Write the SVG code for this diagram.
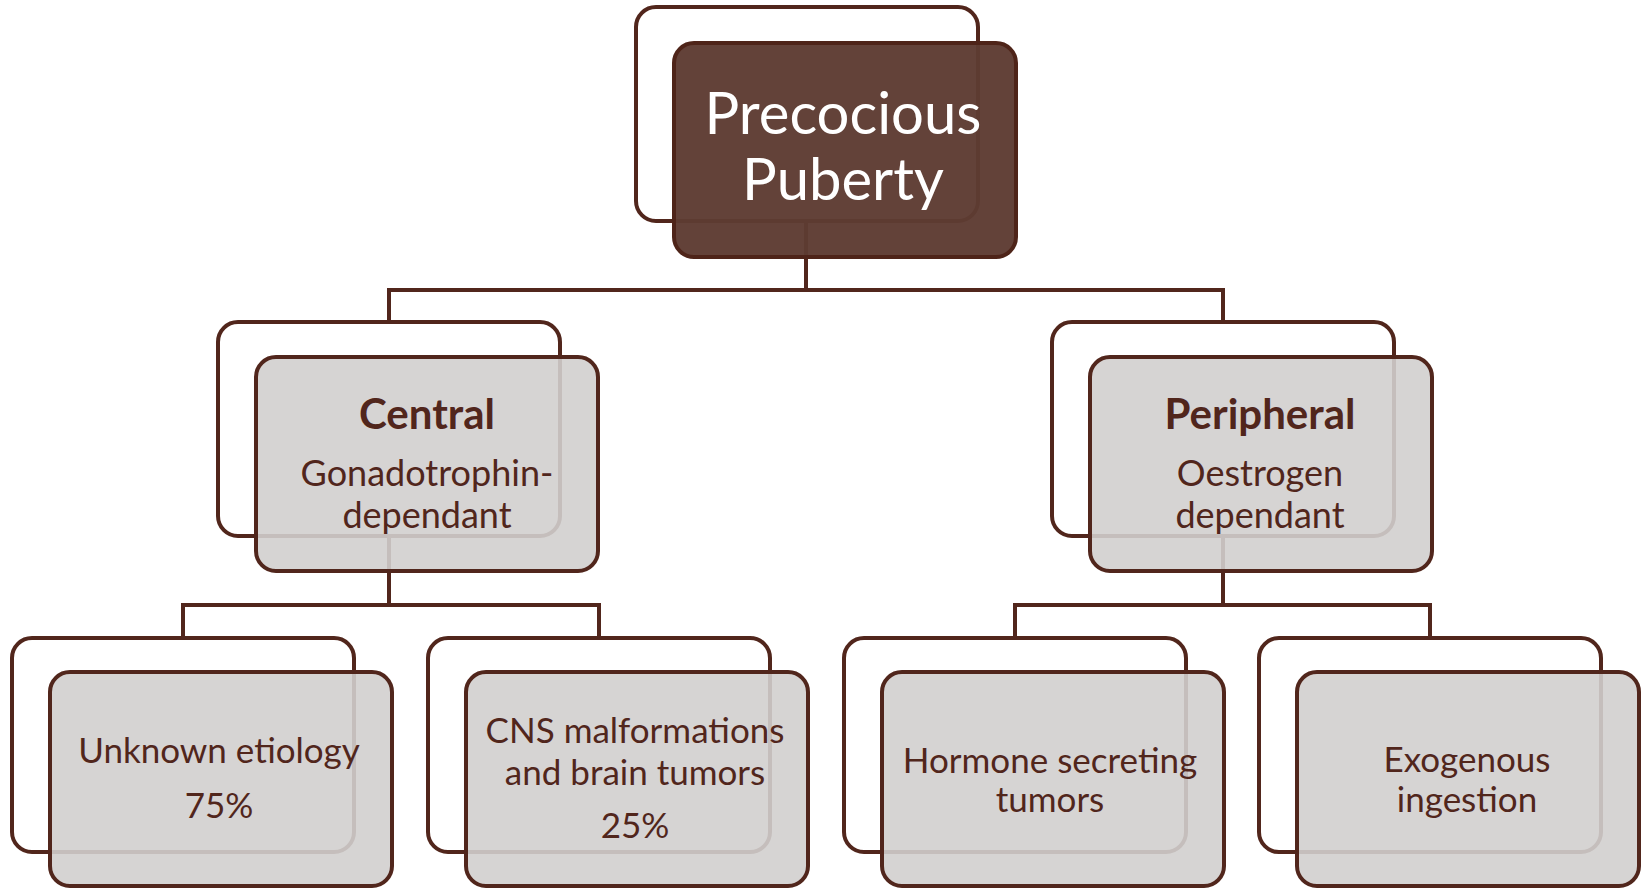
<svg xmlns="http://www.w3.org/2000/svg" width="1641" height="889" viewBox="0 0 1641 889">
<style>
.frame{fill:none;stroke:#51261c;stroke-width:4}
.box{fill:#d1cfce;fill-opacity:0.9;stroke:#51261c;stroke-width:4}
.top{fill:#5e3c33;fill-opacity:0.97;stroke:#4e2419;stroke-width:4}
.conn{fill:none;stroke:#51261c;stroke-width:4}
text{font-family:Lato,"Open Sans","Liberation Sans",sans-serif;text-anchor:middle;fill:#51261c}
.t{font-size:35px}
.s{font-size:36px}
.h{font-size:42px;font-weight:bold}
.w{font-size:58px;fill:#ffffff}
</style>
<rect width="1641" height="889" fill="#ffffff"/>
<g id="connectors">
<path class="conn" d="M806 221V290M389 290H1223M389 288V322M1223 288V322"/>
<path class="conn" d="M389 536V605M183 605H599M183 603V638M599 603V638"/>
<path class="conn" d="M1223 536V605M1015 605H1430M1015 603V638M1430 603V638"/>
</g>
<g id="n-root">
<rect class="frame" x="636" y="7" width="342" height="214" rx="20"/>
<rect class="top" x="674" y="43" width="342" height="214" rx="20"/>
<text class="w" x="843" y="134">Precocious</text>
<text class="w" x="843" y="200">Puberty</text>
</g>
<g id="n-central">
<rect class="frame" x="218" y="322" width="342" height="214" rx="20"/>
<rect class="box" x="256" y="357" width="342" height="214" rx="20"/>
<text class="h" x="427" y="429">Central</text>
<text class="s" x="427" y="486">Gonadotrophin-</text>
<text class="s" x="427" y="528">dependant</text>
</g>
<g id="n-peripheral">
<rect class="frame" x="1052" y="322" width="342" height="214" rx="20"/>
<rect class="box" x="1090" y="357" width="342" height="214" rx="20"/>
<text class="h" x="1260" y="429">Peripheral</text>
<text class="s" x="1260" y="486">Oestrogen</text>
<text class="s" x="1260" y="528">dependant</text>
</g>
<g id="n-unknown">
<rect class="frame" x="12" y="638" width="342" height="214" rx="20"/>
<rect class="box" x="50" y="672" width="342" height="214" rx="20"/>
<text class="t" x="219" y="763">Unknown etiology</text>
<text class="t" x="219" y="818">75%</text>
</g>
<g id="n-cns">
<rect class="frame" x="428" y="638" width="342" height="214" rx="20"/>
<rect class="box" x="466" y="672" width="342" height="214" rx="20"/>
<text class="t" x="635" y="743">CNS malformations</text>
<text class="t" x="635" y="785">and brain tumors</text>
<text class="t" x="635" y="838">25%</text>
</g>
<g id="n-hormone">
<rect class="frame" x="844" y="638" width="342" height="214" rx="20"/>
<rect class="box" x="882" y="672" width="342" height="214" rx="20"/>
<text class="t" x="1050" y="773">Hormone secreting</text>
<text class="t" x="1050" y="812">tumors</text>
</g>
<g id="n-exogenous">
<rect class="frame" x="1259" y="638" width="342" height="214" rx="20"/>
<rect class="box" x="1297" y="672" width="342" height="214" rx="20"/>
<text class="t" x="1467" y="772">Exogenous</text>
<text class="t" x="1467" y="812">ingestion</text>
</g>
</svg>
